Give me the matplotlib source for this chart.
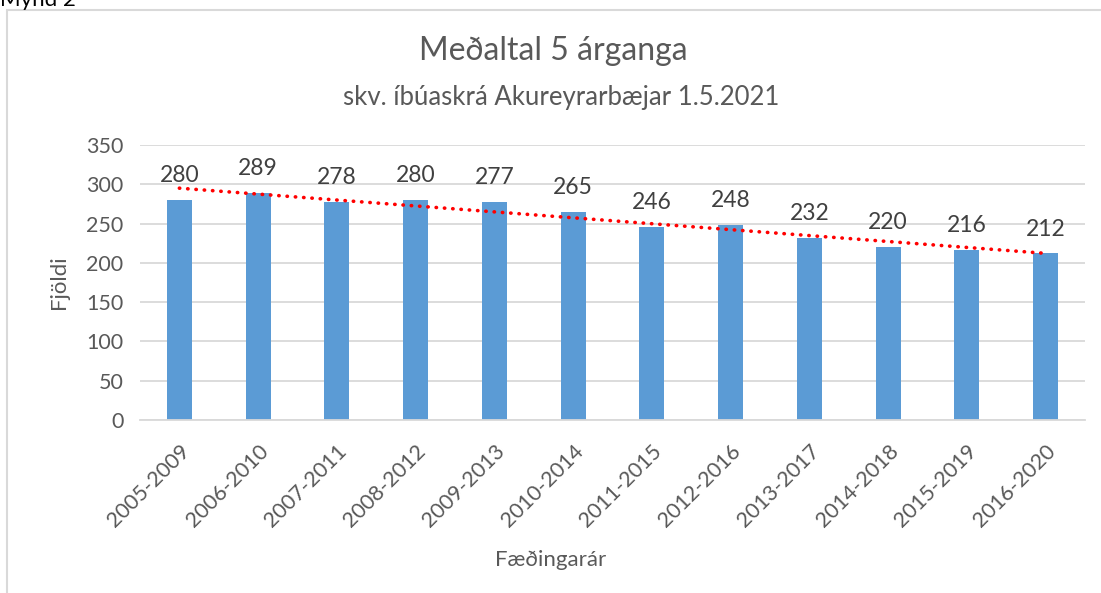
import numpy as np
import matplotlib.pyplot as plt
from matplotlib.patches import Rectangle

periods = ['2005-2009', '2006-2010', '2007-2011', '2008-2012', '2009-2013', '2010-2014',
           '2011-2015', '2012-2016', '2013-2017', '2014-2018', '2015-2019', '2016-2020']
averages = [280, 289, 278, 280, 277, 265, 246, 248, 232, 220, 216, 212]

plt.rcParams['font.family'] = ['Lato', 'DejaVu Sans']
text_color = '#595959'

fig = plt.figure(figsize=(11.01, 5.93), dpi=100)

# chart frame (extends past the image on the right and bottom)
fig.patches.append(Rectangle((7 / 1101, -0.1), 1.2, 1 - 10 / 593 + 0.1,
                             transform=fig.transFigure, fill=False,
                             edgecolor='#D9D9D9', linewidth=1.5))
fig.text(0.0, 1.0, 'Mynd 2', fontsize=16, color='black', ha='left', va='center')

ax = fig.add_axes([140 / 1101, 1 - 420 / 593, 945 / 1101, 275 / 593])

x = np.arange(len(periods))
ax.bar(x, averages, width=0.32, color='#5B9BD5', zorder=2)

for xi, v in zip(x, averages):
    ax.annotate(str(v), (xi, v), xytext=(0, 10), textcoords='offset points',
                ha='center', va='bottom', fontsize=16.5, color='#404040')

# linear trend line
k, m = np.polyfit(x, averages, 1)
ax.plot([x[0], x[-1]], [k * x[0] + m, k * x[-1] + m], color='#FF0000',
        linewidth=2.6, linestyle=(0, (0.1, 2.2)), dash_capstyle='round', zorder=3)

ax.set_xlim(-0.5, len(periods) - 0.5)
ax.set_ylim(0, 350)
ax.set_yticks(range(0, 351, 50))
ax.yaxis.grid(True, color='#D9D9D9', linewidth=1.3, zorder=0)
ax.set_axisbelow(True)
for s in ['top', 'right', 'left']:
    ax.spines[s].set_visible(False)
ax.spines['bottom'].set_color('#D9D9D9')
ax.spines['bottom'].set_linewidth(1.3)
ax.tick_params(axis='both', length=0, labelsize=15.5, colors=text_color)
ax.tick_params(axis='y', pad=12)
ax.tick_params(axis='x', pad=15)
ax.set_xticks(x)
ax.set_xticklabels(periods, rotation=45, ha='right', rotation_mode='anchor')

ax.set_ylabel('Fjöldi', fontsize=16, color=text_color, labelpad=12)
fig.text(0.5, 1 - 560 / 593, 'Fæðingarár', fontsize=16, color=text_color,
         ha='center', va='center')

fig.text(553 / 1101, 1 - 51 / 593, 'Meðaltal 5 árganga', fontsize=23,
         color=text_color, ha='center', va='center')
fig.text(561 / 1101, 1 - 97 / 593, 'skv. íbúaskrá Akureyrarbæjar 1.5.2021', fontsize=18.5,
         color=text_color, ha='center', va='center')

fig.savefig('out.png', dpi=100)
